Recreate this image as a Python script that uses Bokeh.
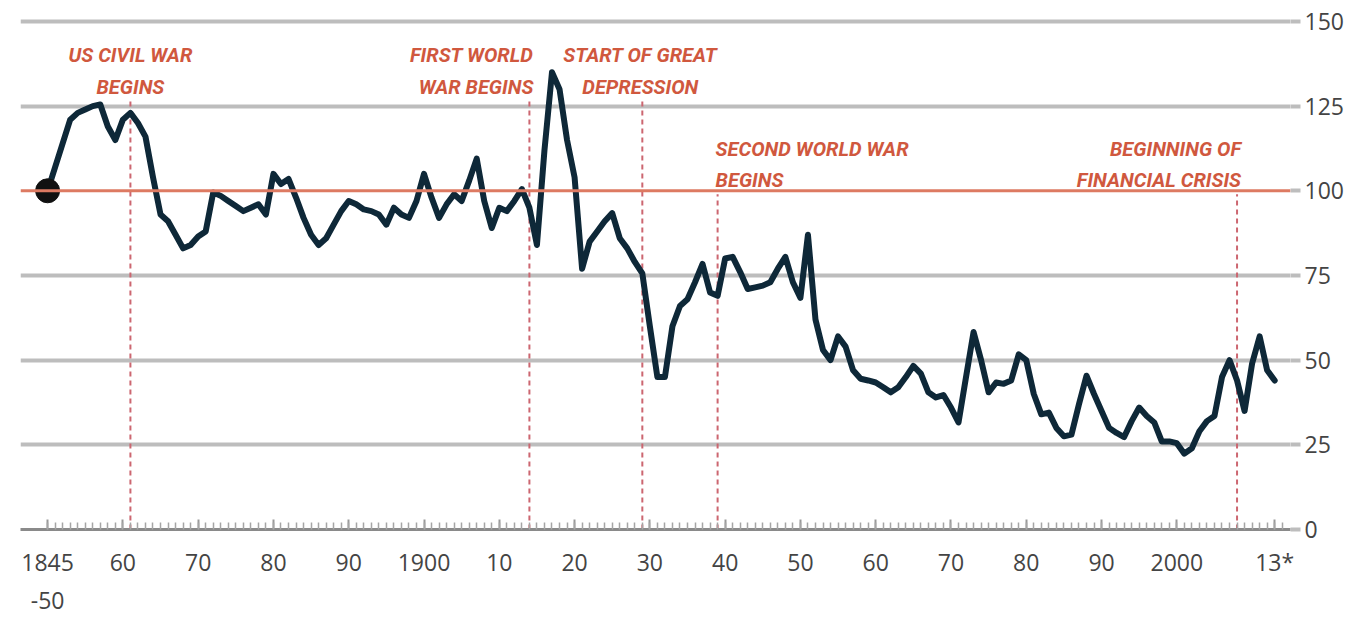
from bokeh.plotting import figure
from bokeh.models import FixedTicker, Label, Span, ColumnDataSource
from bokeh.core.properties import value
from bokeh.embed import file_html
from bokeh.resources import INLINE

# ---- data ----
years = list(range(1850, 2014))
index_values = [
    100, 107, 114, 121, 123, 124, 125, 125.5, 119, 115,   # 1850-1859
    121, 123, 120, 116, 104, 93, 91, 87, 83, 84,          # 1860-1869
    86.5, 88, 99.5, 98.5, 97, 95.5, 94, 95, 96, 93,       # 1870-1879
    105, 102, 103.5, 98, 92, 87, 84, 86, 90, 94,          # 1880-1889
    97, 96, 94.5, 94, 93, 90, 95, 93, 92, 97,             # 1890-1899
    105, 98, 92, 96, 99, 97, 103, 109.5, 97, 89,          # 1900-1909
    95, 94, 97, 100.5, 95, 84, 112, 135, 130, 115,        # 1910-1919
    104, 77, 85, 88, 91, 93.4, 86, 83, 79, 75.6,          # 1920-1929
    60, 45, 45, 60, 66, 68, 73, 78.4, 70, 69,             # 1930-1939
    80, 80.5, 76, 71, 71.5, 72, 73, 77, 80.5, 73,         # 1940-1949
    68.4, 87, 62, 53, 50, 57, 54, 47, 44.5, 44,           # 1950-1959
    43.4, 42, 40.5, 42, 45, 48.3, 46, 40.5, 39, 39.7,     # 1960-1969
    36, 31.6, 45, 58.3, 50, 40.5, 43.4, 43, 44, 51.7,     # 1970-1979
    50, 40, 34, 34.5, 30, 27.5, 28, 37, 45.4, 40,         # 1980-1989
    35, 30, 28.5, 27.3, 32, 36, 33.5, 31.6, 26, 26,       # 1990-1999
    25.5, 22.4, 24, 29, 32, 33.5, 45, 50, 44, 35,         # 2000-2009
    49, 57, 47, 44,                                       # 2010-2013
]
tick_years = [1850, 1860, 1870, 1880, 1890, 1900, 1910, 1920, 1930,
              1940, 1950, 1960, 1970, 1980, 1990, 2000, 2013]
tick_labels = ["1845\n-50", "60", "70", "80", "90", "1900", "10", "20", "30",
               "40", "50", "60", "70", "80", "90", "2000", "13*"]
y_ticks = [0, 25, 50, 75, 100, 125, 150]
base_year = [1850]
base_value = [100]
event_years = [1861, 1914, 1929, 1939, 2008]
event_labels = ["US CIVIL WAR\nBEGINS", "FIRST WORLD\nWAR BEGINS",
                "START OF GREAT\nDEPRESSION", "SECOND WORLD WAR\nBEGINS",
                "BEGINNING OF\nFINANCIAL CRISIS"]

# ---- styling (not data) ----
event_line_tops = [127, 127, 127, 99, 99]
event_label_tops = [143.5, 143.5, 143.5, 116, 116]
event_aligns = ["center", "right", "center", "left", "right"]
event_xoff = [0, 4, -2, -2, 4]

RED = "#d0583e"
GRID = "#bdbdbd"
TXT = "#444444"

p = figure(width=1362, height=618, x_range=(1846.4, 2015.1), y_range=(0, 155),
           y_axis_location="right", output_backend="svg", toolbar_location=None,
           min_border_left=20, min_border_right=72, min_border_top=4,
           min_border_bottom=75)
p.outline_line_color = None
p.background_fill_color = "white"
p.xgrid.visible = False
p.ygrid.ticker = FixedTicker(ticks=[25, 50, 75, 125, 150])
p.ygrid.grid_line_color = GRID
p.ygrid.grid_line_width = 4

# 100 reference line
p.add_layout(Span(location=100, dimension="width", line_color="#dd7a62",
                  line_width=3))

# y axis (right)
p.yaxis.ticker = FixedTicker(ticks=y_ticks)
p.yaxis.axis_line_color = None
p.yaxis.major_tick_in = 0
p.yaxis.major_tick_out = 10
p.yaxis.major_tick_line_color = GRID
p.yaxis.major_tick_line_width = 4
p.yaxis.minor_tick_line_color = None
p.yaxis.major_label_standoff = 4
p.yaxis.major_label_text_font = "Open Sans"
p.yaxis.major_label_text_font_size = "23px"
p.yaxis.major_label_text_color = TXT

# x axis
p.xaxis.ticker = FixedTicker(ticks=tick_years, minor_ticks=list(range(1850, 2015)))
p.xaxis.major_label_overrides = {y: l for y, l in zip(tick_years, tick_labels)}
p.xaxis.axis_line_color = "#8a8a8a"
p.xaxis.axis_line_width = 3
p.xaxis.major_tick_in = 10
p.xaxis.major_tick_out = 0
p.xaxis.minor_tick_in = 7
p.xaxis.minor_tick_out = 0
p.xaxis.major_tick_line_color = "#999999"
p.xaxis.minor_tick_line_color = "#a5a5a5"
p.xaxis.major_tick_line_width = 2
p.xaxis.minor_tick_line_width = 1.5
p.xaxis.major_label_standoff = 16
p.xaxis.major_label_text_font = "Open Sans"
p.xaxis.major_label_text_font_size = "23px"
p.xaxis.major_label_text_color = TXT

# event dashed lines
ev = ColumnDataSource(dict(x=event_years, y0=[0] * len(event_years), y1=event_line_tops))
p.segment(x0="x", y0="y0", x1="x", y1="y1", source=ev, line_color="#cc6670",
          line_width=2, line_dash="5 4")

# main series
p.line(years, index_values, line_color="#0e2838", line_width=6,
       line_join="round", line_cap="round")
p.scatter(base_year, base_value, size=24, fill_color="#111111", line_color="#111111")

# event labels
for yr, txt, top, al, xo in zip(event_years, event_labels, event_label_tops,
                                event_aligns, event_xoff):
    p.add_layout(Label(x=yr, y=top, text=txt, x_offset=xo, text_align=al,
                       text_baseline="top", text_color=RED,
                       text_font="Roboto",
                       text_font_style="bold italic", text_font_size="20px",
                       text_line_height=1.3))

open("out.html", "w").write(file_html(p, INLINE))
